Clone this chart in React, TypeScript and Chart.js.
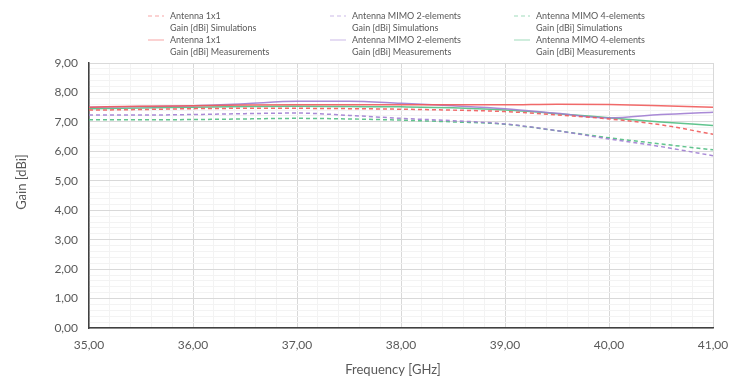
import React, { useEffect, useRef } from "react";
import { Chart, registerables } from "chart.js";

Chart.register(...registerables);

const frequencies = [35, 35.5, 36, 36.5, 37, 37.5, 38, 38.5, 39, 39.5, 40, 40.5, 41];
const sim1x1 = [7.4, 7.42, 7.45, 7.46, 7.46, 7.45, 7.43, 7.4, 7.35, 7.24, 7.1, 6.9, 6.58];
const simMimo2 = [7.23, 7.23, 7.25, 7.28, 7.3, 7.22, 7.12, 7.04, 6.93, 6.7, 6.42, 6.16, 5.85];
const simMimo4 = [7.07, 7.07, 7.08, 7.1, 7.12, 7.1, 7.06, 7.0, 6.92, 6.7, 6.46, 6.25, 6.05];
const meas1x1 = [7.5, 7.53, 7.55, 7.57, 7.58, 7.58, 7.58, 7.58, 7.58, 7.6, 7.59, 7.55, 7.5];
const measMimo2 = [7.5, 7.52, 7.55, 7.62, 7.7, 7.7, 7.63, 7.55, 7.45, 7.29, 7.13, 7.25, 7.33];
const measMimo4 = [7.45, 7.47, 7.5, 7.52, 7.53, 7.52, 7.51, 7.48, 7.4, 7.28, 7.14, 7.0, 6.88];

const antennaNames = ["Antenna 1x1", "Antenna MIMO 2-elements", "Antenna MIMO 4-elements"];
const kindNames = ["Gain [dBi] Simulations", "Gain [dBi] Measurements"];
const xTitle = "Frequency [GHz]";
const yTitle = "Gain [dBi]";

const colors = ["rgba(240, 90, 90, 0.9)", "rgba(160, 125, 210, 0.9)", "rgba(80, 190, 130, 0.9)"];
const FONT = "Lato, 'Open Sans', sans-serif";
const TEXT = "#595959";

const fmt = (v: number) => v.toFixed(2).replace(".", ",");
const isMajor = (v: number) => Math.abs(v - Math.round(v)) < 1e-6;

const toPoints = (ys: number[]) => frequencies.map((x, i) => ({ x, y: ys[i] }));

const legendAndTitles = {
  id: "legendAndTitles",
  afterDraw(chart: any) {
    const ctx = chart.ctx;
    const ds = chart.data.datasets;
    ctx.save();
    ctx.fillStyle = TEXT;
    ctx.textBaseline = "middle";
    ctx.textAlign = "left";
    ctx.font = `9px ${FONT}`;
    const colX = [148, 330, 514];
    const rowY = [16, 40];
    ds.forEach((d: any, i: number) => {
      const col = i % 3;
      const row = Math.floor(i / 3);
      const x = colX[col];
      const y = rowY[row];
      ctx.strokeStyle = d.borderColor;
      ctx.globalAlpha = 0.6;
      ctx.lineWidth = 1;
      ctx.setLineDash(d.borderDash || []);
      ctx.beginPath();
      ctx.moveTo(x, y);
      ctx.lineTo(x + 16, y);
      ctx.stroke();
      ctx.setLineDash([]);
      ctx.globalAlpha = 1;
      const lines = String(d.label).split("\n");
      lines.forEach((t: string, k: number) => ctx.fillText(t, x + 22, y + k * 12));
    });
    ctx.font = `13px ${FONT}`;
    ctx.textAlign = "center";
    ctx.fillText(xTitle, 393, 370);
    ctx.translate(22, 182);
    ctx.rotate(-Math.PI / 2);
    ctx.fillText(yTitle, 0, 0);
    ctx.restore();
  },
};

export default function App() {
  const ref = useRef<HTMLCanvasElement | null>(null);
  useEffect(() => {
    if (!ref.current) return;
    const series = [sim1x1, simMimo2, simMimo4, meas1x1, measMimo2, measMimo4];
    const datasets = series.map((s, i) => {
      const col = i % 3;
      const sim = i < 3;
      return {
        label: `${antennaNames[col]}\n${kindNames[sim ? 0 : 1]}`,
        data: toPoints(s),
        borderColor: colors[col],
        backgroundColor: colors[col],
        borderWidth: 1.5,
        borderDash: sim ? [4, 3] : [],
        pointRadius: 0,
        cubicInterpolationMode: "monotone" as const,
        fill: false,
      };
    });
    const gridColor = (c: any) => (isMajor(c.tick?.value ?? 0) ? "#d9d9d9" : "#f3f3f3");
    const chart = new Chart(ref.current, {
      type: "line",
      data: { datasets },
      plugins: [legendAndTitles],
      options: {
        animation: false,
        responsive: false,
        maintainAspectRatio: false,
        layout: { padding: { top: 63, right: 16, left: 0, bottom: 0 } },
        plugins: { legend: { display: false }, tooltip: { enabled: false } },
        scales: {
          x: {
            type: "linear",
            min: 35,
            max: 41,
            ticks: {
              stepSize: 0.2,
              autoSkip: false,
              maxRotation: 0,
              padding: 10,
              color: TEXT,
              font: { family: FONT, size: 12 },
              callback: (v: any) => (isMajor(Number(v)) ? fmt(Number(v)) : ""),
            },
            grid: { color: gridColor, drawTicks: false, lineWidth: 1 },
            border: { display: true, color: "#404040", width: 1.5 },
            afterFit: (s: any) => {
              s.height = 52;
              s.paddingLeft = 0;
              s.paddingRight = 0;
            },
          },
          y: {
            type: "linear",
            min: 0,
            max: 9,
            ticks: {
              stepSize: 0.2,
              autoSkip: false,
              padding: 11,
              color: TEXT,
              font: { family: FONT, size: 12 },
              callback: (v: any) => (isMajor(Number(v)) ? fmt(Number(v)) : ""),
            },
            grid: { color: gridColor, drawTicks: false, lineWidth: 1 },
            border: { display: true, color: "#404040", width: 1.5 },
            afterFit: (s: any) => {
              s.width = 89;
              s.paddingTop = 0;
              s.paddingBottom = 0;
            },
          },
        },
      },
    });
    return () => chart.destroy();
  }, []);
  return (
    <div style={{ position: "absolute", left: 0, top: 0, width: 729, height: 380, background: "#fff" }}>
      <canvas ref={ref} width={729} height={380} style={{ display: "block", width: 729, height: 380 }} />
    </div>
  );
}
